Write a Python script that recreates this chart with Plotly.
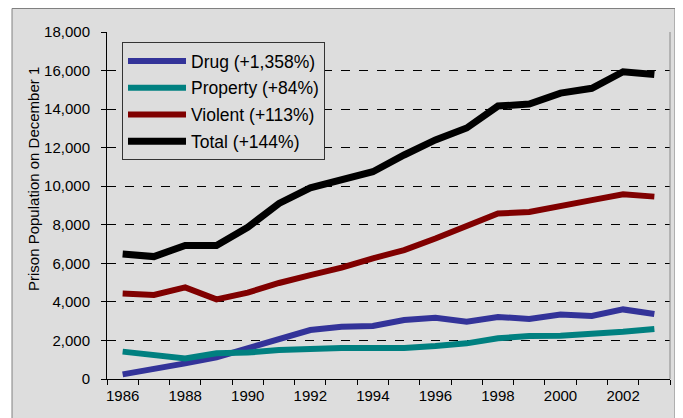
import plotly.graph_objects as go

years = list(range(1986, 2004))
drug = [240, 500, 810, 1120, 1570, 2020, 2540, 2710, 2750, 3060, 3180, 2970, 3220, 3110, 3350, 3270, 3610, 3370]
prop = [1420, 1240, 1070, 1330, 1370, 1500, 1590, 1610, 1610, 1610, 1710, 1850, 2110, 2230, 2250, 2330, 2450, 2590]
violent = [4440, 4360, 4750, 4130, 4480, 4980, 5390, 5780, 6260, 6690, 7290, 7940, 8590, 8660, 9000, 9280, 9580, 9460]
total = [6480, 6350, 6930, 6930, 7870, 9110, 9920, 10320, 10750, 11620, 12400, 13020, 14160, 14260, 14830, 15080, 15940, 15790]

series = [
    ("Drug (+1,358%)", drug, "#333399", 6),
    ("Property (+84%)", prop, "#008080", 6),
    ("Violent (+113%)", violent, "#800000", 6),
    ("Total (+144%)", total, "#000000", 7),
]
xlabels = [str(y) for y in range(1986, 2003, 2)]
ytitle = "Prison Population on December 1"

fig = go.Figure()
for i, (name, vals, color, w) in enumerate(series):
    fig.add_trace(go.Scatter(x=years, y=vals, name=name, mode="lines",
                             legendgroup=f"g{i}",
                             line=dict(color=color, width=w)))

# page body has an 8px margin, so the figure is 8px smaller than the window
OFF = 8
W, H = 683 - OFF, 418 - OFF
l, r, t, b = 107 - OFF, 13, 32 - OFF, 39
pw, ph = W - l - r, H - t - b

def px(xw):  # window x -> paper
    return (xw - 107) / pw

def py(yw):  # window y -> paper
    return (379 - yw) / ph

bg = "#dddddd"
fig.update_layout(
    width=W, height=H,
    margin=dict(l=l, r=r, t=t, b=b, autoexpand=False),
    paper_bgcolor="white",
    plot_bgcolor=bg,
    font=dict(family="Liberation Sans, Arial, sans-serif", size=14, color="black"),
    showlegend=True,
    legend=dict(x=px(122), y=py(42), xanchor="left", yanchor="top",
                bgcolor=bg, bordercolor="#333333", borderwidth=1,
                font=dict(size=17.5), traceorder="grouped", tracegroupgap=1,
                itemwidth=58),
    shapes=[
        dict(type="rect", xref="paper", yref="paper", layer="below",
             x0=px(12), x1=px(675), y0=py(430), y1=py(8.5),
             fillcolor=bg, line=dict(color="#808080", width=1)),
        dict(type="line", xref="paper", yref="paper", layer="above",
             x0=1, x1=1, y0=0, y1=1, line=dict(color="#888888", width=1)),
    ],
    annotations=[
        dict(text=ytitle, xref="paper", yref="paper", x=px(33), y=py(179),
             xanchor="center", yanchor="middle", textangle=-90, showarrow=False,
             font=dict(size=15)),
    ],
)
fig.update_xaxes(
    range=[1985.5, 2003.5], tickvals=[int(s) for s in xlabels], ticktext=xlabels,
    ticks="", showgrid=False, zeroline=False,
    showline=True, linecolor="black", linewidth=1,
    minor=dict(ticks="outside", tick0=1985.5, dtick=1, ticklen=5,
               tickcolor="black", showgrid=False),
    tickfont=dict(size=15), ticklabelstandoff=3,
)
fig.update_yaxes(
    range=[0, 18000], dtick=2000, tickformat=",",
    ticks="outside", ticklen=5, tickcolor="black",
    showline=True, linecolor="black", linewidth=1,
    showgrid=True, gridcolor="black", griddash="dash", gridwidth=1,
    zeroline=False, tickfont=dict(size=15), ticklabelstandoff=8,
)
fig.write_html("out.html")
